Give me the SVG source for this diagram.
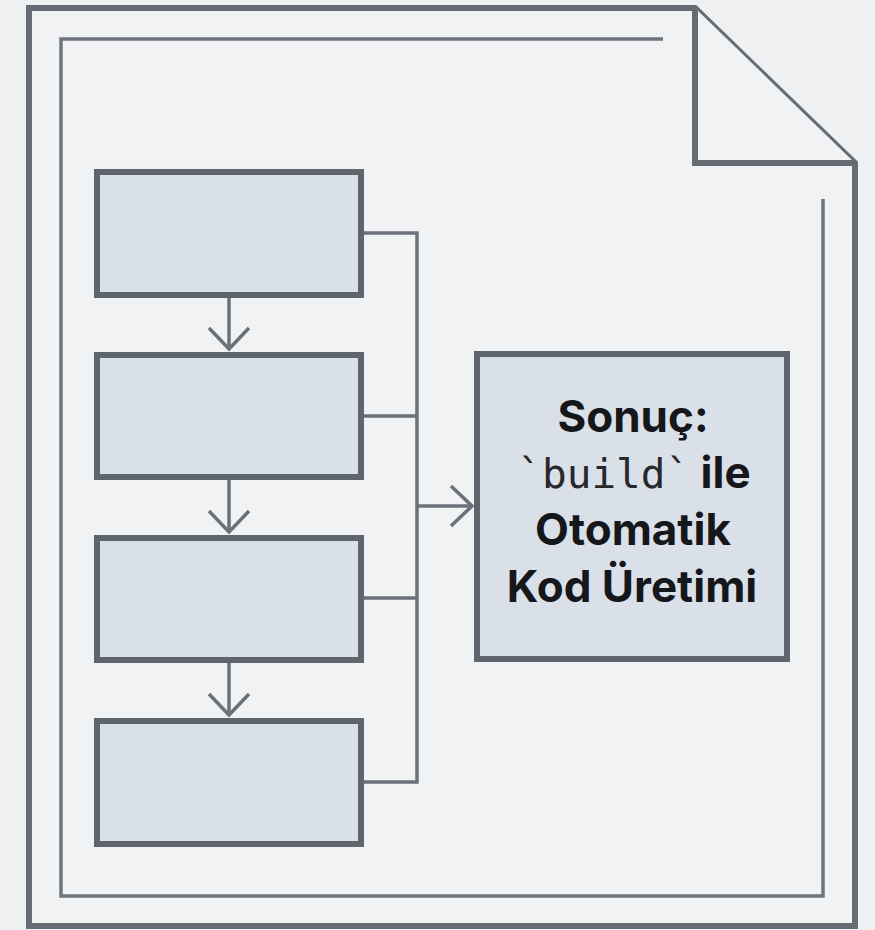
<svg xmlns="http://www.w3.org/2000/svg" width="875" height="930" viewBox="0 0 875 930">
<style>
.bg{fill:#eff0f1}
.page{fill:#f1f2f3;stroke:#666c74;stroke-width:6;stroke-linejoin:miter}
.inner{fill:none;stroke:#6f757d;stroke-width:3.5}
.box{fill:#dae0e8;stroke:#5f656d;stroke-width:6}
.conn{fill:none;stroke:#6b7179;stroke-width:3.5}
.t{font-family:Inter,"Liberation Sans",sans-serif;font-weight:700;font-size:44px;fill:#16171a;text-anchor:middle}
.m{font-family:"DejaVu Sans Mono","Liberation Mono",monospace;font-weight:400;font-size:41px;fill:#26282c}
</style>
<defs>
<marker id="ah" viewBox="0 0 44 44" refX="23" refY="22" markerWidth="44" markerHeight="44" markerUnits="userSpaceOnUse" orient="auto">
<path d="M2,2 L23,22 L2,42" fill="none" stroke="#6b7179" stroke-width="3.5"/>
</marker>
</defs>
<rect class="bg" x="0" y="0" width="875" height="930"/>
<g id="page">
<path class="page" d="M29,8 H695 L855,163 V926 H29 Z"/>
<path class="page" d="M695,8 V163 H855"/>
<path class="inner" d="M663,39 H61 V896 H823 V199"/>
</g>
<g id="connectors">
<path class="conn" d="M229,295 V349" marker-end="url(#ah)"/>
<path class="conn" d="M229,477 V532" marker-end="url(#ah)"/>
<path class="conn" d="M229,660 V715" marker-end="url(#ah)"/>
<path class="conn" d="M361,233 H417 V782 H361"/>
<path class="conn" d="M361,416 H417"/>
<path class="conn" d="M361,598 H417"/>
<path class="conn" d="M417,506 H472" marker-end="url(#ah)"/>
</g>
<g id="step1"><rect class="box" x="97" y="172" width="264" height="123"/></g>
<g id="step2"><rect class="box" x="97" y="355" width="264" height="122"/></g>
<g id="step3"><rect class="box" x="97" y="538" width="264" height="122"/></g>
<g id="step4"><rect class="box" x="97" y="721" width="264" height="123"/></g>
<g id="result">
<rect class="box" x="477" y="354" width="310" height="305"/>
<text class="t" x="633" y="432">Sonuç:</text>
<text class="t" x="634" y="488"><tspan class="m">`build`</tspan> ile</text>
<text class="t" x="633" y="545">Otomatik</text>
<text class="t" x="632" y="602">Kod Üretimi</text>
</g>
</svg>
